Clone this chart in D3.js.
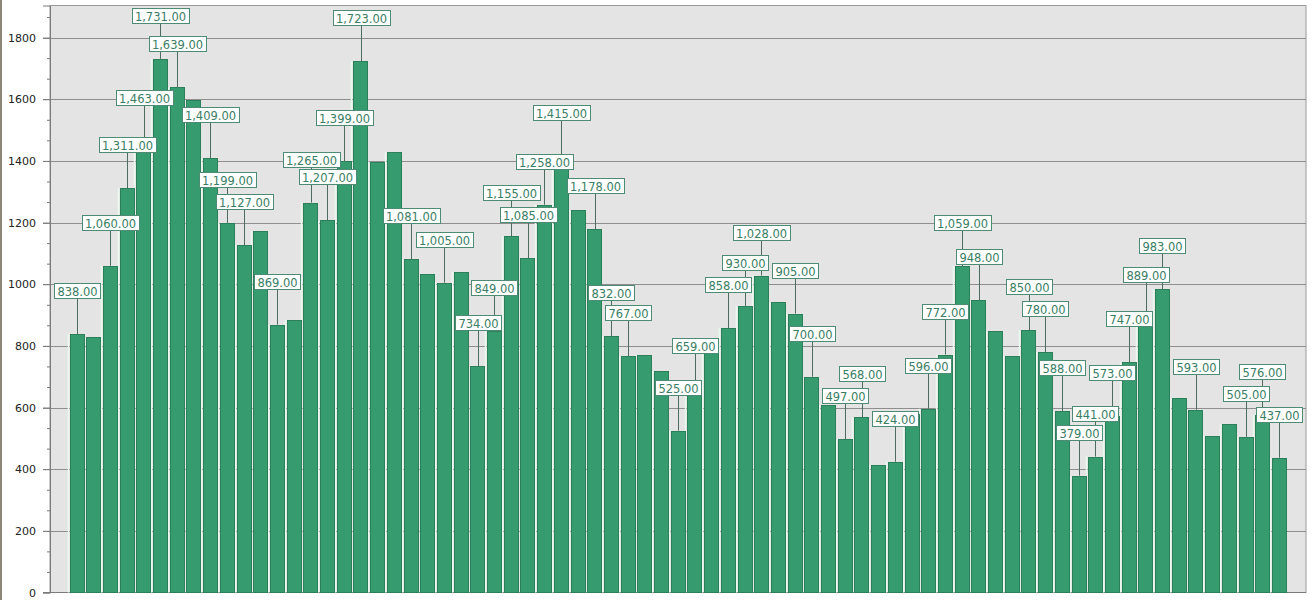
<!DOCTYPE html>
<html>
<head>
<meta charset="utf-8">
<script src="https://cdn.jsdelivr.net/npm/d3@7"></script>
<style>
  html, body { margin: 0; padding: 0; background: #ffffff; }
  svg { display: block; }
</style>
</head>
<body>
<svg id="chart" width="1315" height="600"></svg>
<script>
// Daily totals, one bar per period
const values = [
  838, 830, 1060, 1311, 1463, 1731, 1639, 1596, 1409, 1199,
  1127, 1172, 869, 885, 1265, 1207, 1399, 1723, 1398, 1430,
  1081, 1032, 1005, 1040, 734, 849, 1155, 1085, 1258, 1415,
  1240, 1178, 832, 767, 771, 719, 525, 659, 798, 858,
  930, 1028, 941, 905, 700, 608, 497, 568, 414, 424,
  578, 596, 772, 1059, 948, 847, 768, 850, 780, 588,
  379, 441, 573, 747, 889, 983, 630, 593, 509, 546,
  505, 576, 437
];

// 1 = the bar carries a value callout
const showLabel = [
  1, 0, 1, 1, 1, 1, 1, 0, 1, 1,
  1, 0, 1, 0, 1, 1, 1, 1, 0, 0,
  1, 0, 1, 0, 1, 1, 1, 1, 1, 1,
  0, 1, 1, 1, 0, 0, 1, 1, 0, 1,
  1, 1, 0, 1, 1, 0, 1, 1, 0, 1,
  0, 1, 1, 1, 1, 0, 0, 1, 1, 1,
  1, 1, 1, 1, 1, 1, 0, 1, 0, 0,
  1, 1, 1
];

const categories = values.map((_, i) => String(i + 1));
const majorTicks = [0, 200, 400, 600, 800, 1000, 1200, 1400, 1600, 1800];

const svg = d3.select("#chart");
const plot = { left: 50, right: 1306, top: 5.5, bottom: 592.5 };

const x = d3.scaleBand()
  .domain(categories)
  .range([plot.left, plot.right])
  .paddingInner(0.13)
  .paddingOuter(1.17);

const yMax = d3.max(values) * 1.1;
const y = d3.scaleLinear().domain([0, yMax]).range([plot.bottom, plot.top]);

// window edge
svg.append("rect").attr("x", 0).attr("y", 0).attr("width", 2).attr("height", 600)
  .attr("fill", "#8f857b");

// plot background
svg.append("rect")
  .attr("x", plot.left).attr("y", plot.top)
  .attr("width", plot.right - plot.left).attr("height", plot.bottom - plot.top)
  .attr("fill", "#e4e4e4")
  .attr("stroke", "#9a9a9a").attr("stroke-width", 1);

// gridlines
svg.append("g").selectAll("line").data(majorTicks.filter(d => d > 0)).join("line")
  .attr("x1", 43).attr("x2", plot.right)
  .attr("y1", d => Math.round(y(d)) + 0.5).attr("y2", d => Math.round(y(d)) + 0.5)
  .attr("stroke", "#8e8e8e").attr("stroke-width", 1);

// y axis with major labels
const yAxis = d3.axisLeft(y).tickValues(majorTicks).tickSize(7).tickPadding(7).tickFormat(d3.format("d"));
const gAxis = svg.append("g").attr("transform", `translate(${plot.left},0)`).call(yAxis);
gAxis.select(".domain").attr("stroke", "#7a7a7a");
gAxis.selectAll(".tick line").attr("stroke", "#7a7a7a");
gAxis.selectAll(".tick text")
  .attr("font-family", "'DejaVu Sans', Verdana, sans-serif")
  .attr("font-size", "11px").attr("fill", "#222");

// minor ticks at thirds of each major step
const minor = d3.range(0, yMax, 200 / 3).filter((d, i) => i % 3 !== 0);
const yMinor = d3.axisLeft(y).tickValues(minor).tickSize(3).tickFormat("");
const gMinor = svg.append("g").attr("transform", `translate(${plot.left},0)`).call(yMinor);
gMinor.select(".domain").remove();
gMinor.selectAll(".tick line").attr("stroke", "#7a7a7a");

// bottom axis line
svg.append("line")
  .attr("x1", 43).attr("x2", plot.right)
  .attr("y1", plot.bottom).attr("y2", plot.bottom)
  .attr("stroke", "#7a7a7a");

// bars
const bars = svg.append("g");
bars.selectAll("line.hl").data(values).join("line")
  .attr("class", "hl")
  .attr("x1", (d, i) => Math.round(x(categories[i])) - 1.5)
  .attr("x2", (d, i) => Math.round(x(categories[i])) - 1.5)
  .attr("y1", d => y(d)).attr("y2", plot.bottom)
  .attr("stroke", "#eaf9ef").attr("stroke-width", 1.5);
bars.selectAll("rect").data(values).join("rect")
  .attr("x", (d, i) => Math.round(x(categories[i])) + 0.5)
  .attr("y", d => Math.round(y(d)) + 0.5)
  .attr("width", Math.round(x.bandwidth()) - 1)
  .attr("height", d => plot.bottom - Math.round(y(d)) - 0.5)
  .attr("fill", "#369b6e")
  .attr("stroke", "#2b7f59").attr("stroke-width", 1);

// value callouts
const fmt = d3.format(",.2f");
const labelled = values.map((v, i) => ({ v, i })).filter(d => showLabel[d.i]);
const cx = d => Math.round(x(categories[d.i]) + x.bandwidth() / 2) + 0.5;
const boxBottom = d => Math.round(y(d.v)) - 35;

svg.append("g").selectAll("line").data(labelled).join("line")
  .attr("x1", cx).attr("x2", cx)
  .attr("y1", boxBottom).attr("y2", d => y(d.v))
  .attr("stroke", "#4f6a5e").attr("stroke-width", 1);

const tags = svg.append("g").selectAll("g").data(labelled).join("g");
const texts = tags.append("text")
  .attr("x", cx)
  .attr("y", d => boxBottom(d) - 3.5)
  .attr("text-anchor", "middle")
  .attr("font-family", "'DejaVu Sans', Verdana, sans-serif")
  .attr("font-size", "11.5px")
  .attr("fill", "#3c7d66")
  .text(d => fmt(d.v));
texts.each(function (d) {
  const w = this.getComputedTextLength();
  d3.select(this.parentNode).insert("rect", "text")
    .attr("x", Math.round(cx(d) - w / 2 - 3) + 0.5)
    .attr("y", boxBottom(d) - 15.5)
    .attr("width", Math.round(w + 6))
    .attr("height", 15)
    .attr("fill", "#fcfffd")
    .attr("stroke", "#4d8b74").attr("stroke-width", 1);
});
</script>
</body>
</html>
